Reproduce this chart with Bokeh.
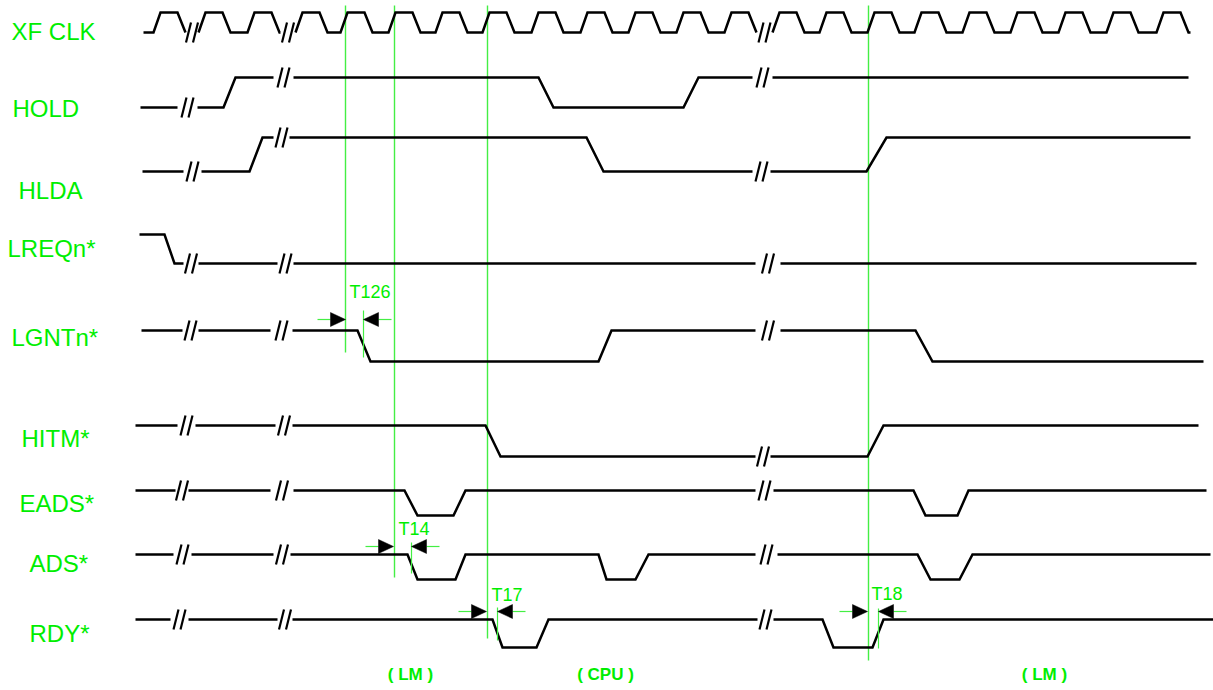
from bokeh.plotting import figure
from bokeh.models import Range1d
from bokeh.core.properties import value
from bokeh.embed import file_html
from bokeh.resources import INLINE

# ---------------- data (time axis in drawing units) ----------------
signal_names = ["XF CLK", "HOLD", "HLDA", "LREQn*", "LGNTn*", "HITM*", "EADS*", "ADS*", "RDY*"]
label_x = [11, 12, 18, 7, 11, 21, 19, 29, 29]
label_y = [31, 108, 190, 248, 337, 438, 503, 563, 633]
level_high = [12, 77, 137, 234, 330, 425, 490, 554, 619]
level_low = [32, 107, 171, 263, 361, 456, 515, 579, 647]

# clock: (segment start, rising edges, segment end)
clk_start = [143, 198, 295, 772]
clk_rises = [[153], [198, 247],
             [295, 340, 388, 435, 482, 531, 580, 628, 676, 724],
             [772, 819, 867, 914, 962, 1010, 1058, 1106, 1156]]
clk_end = [185, 280, 756, 1190]

# other signals: per segment, vertex times and logic states (1 = high, 0 = low)
hold_t = [[140, 177], [197, 223, 235, 273], [293, 538, 553, 683, 698, 752], [772, 1188]]
hold_s = [[0, 0], [0, 0, 1, 1], [1, 1, 0, 0, 1, 1], [1, 1]]
hlda_t = [[142, 183], [201, 249, 262, 273], [289, 586, 603, 752], [770, 866, 886, 1190]]
hlda_s = [[0, 0], [0, 0, 1, 1], [1, 1, 0, 0], [0, 0, 1, 1]]
lreq_t = [[139, 164, 174, 183], [198, 277], [293, 755], [780, 1196]]
lreq_s = [[1, 1, 0, 0], [0, 0], [0, 0], [0, 0]]
lgnt_t = [[141, 182], [198, 270], [292, 357, 370, 598, 611, 755], [780, 915, 932, 1203]]
lgnt_s = [[1, 1], [1, 1], [1, 1, 0, 0, 1, 1], [1, 1, 0, 0]]
hitm_t = [[135, 177], [195, 275], [292, 485, 500, 755], [770, 867, 883, 1198]]
hitm_s = [[1, 1], [1, 1], [1, 1, 0, 0], [0, 0, 1, 1]]
eads_t = [[135, 175], [188, 270], [293, 404, 417, 453, 465, 755], [773, 913, 925, 957, 968, 1206]]
eads_s = [[1, 1], [1, 1], [1, 1, 0, 0, 1, 1], [1, 1, 0, 0, 1, 1]]
ads_t = [[135, 173], [191, 273], [290, 407, 417, 455, 465, 598, 606, 635, 648, 755],
         [777, 917, 930, 959, 972, 1210]]
ads_s = [[1, 1], [1, 1], [1, 1, 0, 0, 1, 1, 0, 0, 1, 1], [1, 1, 0, 0, 1, 1]]
rdy_t = [[135, 170], [188, 277], [292, 492, 502, 536, 548, 757], [773, 822, 833, 872, 883, 1213]]
rdy_s = [[1, 1], [1, 1], [1, 1, 0, 0, 1, 1], [1, 1, 0, 0, 1, 1]]

# reference (marker) lines
marker_x = [345, 394, 487, 868]
marker_bottom = [352, 577, 638, 660]

# timing parameters
timing_names = ["T126", "T14", "T17", "T18"]
timing_from = [345, 393, 486, 867]
timing_to = [363, 411, 497, 878]
timing_y = [319, 546, 611, 611]
timing_tick_top = [310, 542, 607, 608]
timing_tick_bottom = [357, 573, 640, 648]
timing_label_x = [349, 398, 491, 871]
timing_label_y = [291, 528, 594, 593]

# bus-owner phases
phase_names = ["( LM )", "( CPU )", "( LM )"]
phase_x = [410, 605, 1044]
phase_y = 674

# ---------------- styles ----------------
GREEN = "#00ee00"
MARK_GREEN = "#44ee44"
WAVE_W = 2.5
RISE, FALL_START, FALL_END = 7, 24, 32
TRI_LEN, TRI_HALF, TAIL = 15, 7, 13

p = figure(width=1213, height=690, output_backend="svg", toolbar_location=None,
           x_range=Range1d(0, 1213), y_range=Range1d(690, 0),
           x_axis_location=None, y_axis_location=None, min_border=0)
p.grid.visible = False
p.outline_line_color = None
p.background_fill_color = "white"
p.border_fill_color = "white"

wave_xs, wave_ys = [], []
brk_x0, brk_y0, brk_x1, brk_y1 = [], [], [], []


def add_break(xc, y):
    for off in (-6, 1):
        brk_x0.append(xc + off)
        brk_y0.append(y + 10)
        brk_x1.append(xc + off + 5)
        brk_y1.append(y - 10)


# clock
hi, lo = level_high[0], level_low[0]
for i, (s, rises, e) in enumerate(zip(clk_start, clk_rises, clk_end)):
    xs, ys = [s], [lo]
    for r in rises:
        xs += [r, r + RISE, r + FALL_START, r + FALL_END]
        ys += [lo, hi, hi, lo]
    xs.append(e)
    ys.append(lo)
    wave_xs.append(xs)
    wave_ys.append(ys)
    if i + 1 < len(clk_start):
        add_break((e + clk_start[i + 1]) / 2, lo)

signals_t = [hold_t, hlda_t, lreq_t, lgnt_t, hitm_t, eads_t, ads_t, rdy_t]
signals_s = [hold_s, hlda_s, lreq_s, lgnt_s, hitm_s, eads_s, ads_s, rdy_s]
for k, (segs_t, segs_s) in enumerate(zip(signals_t, signals_s)):
    hi, lo = level_high[k + 1], level_low[k + 1]
    for i, (ts, ss) in enumerate(zip(segs_t, segs_s)):
        wave_xs.append(ts)
        wave_ys.append([hi if v else lo for v in ss])
        if i + 1 < len(segs_t):
            add_break((ts[-1] + segs_t[i + 1][0]) / 2, hi if ss[-1] else lo)

# marker lines (behind waveforms)
p.segment(x0=marker_x, y0=[5] * len(marker_x), x1=marker_x, y1=marker_bottom,
          line_color=MARK_GREEN, line_width=1.4)

p.multi_line(xs=wave_xs, ys=wave_ys, line_color="black", line_width=WAVE_W, line_join="miter")
p.segment(x0=brk_x0, y0=brk_y0, x1=brk_x1, y1=brk_y1, line_color="black", line_width=2.2)

# timing annotations
tri_xs, tri_ys = [], []
tail_x0, tail_x1, tail_y = [], [], []
for a, b, y in zip(timing_from, timing_to, timing_y):
    tri_xs.append([a, a - TRI_LEN, a - TRI_LEN])
    tri_ys.append([y, y - TRI_HALF, y + TRI_HALF])
    tri_xs.append([b, b + TRI_LEN, b + TRI_LEN])
    tri_ys.append([y, y - TRI_HALF, y + TRI_HALF])
    tail_x0 += [a - TRI_LEN - TAIL, b + TRI_LEN]
    tail_x1 += [a - TRI_LEN, b + TRI_LEN + TAIL]
    tail_y += [y, y]
p.segment(x0=tail_x0, y0=tail_y, x1=tail_x1, y1=tail_y, line_color=MARK_GREEN, line_width=1.2)
p.segment(x0=timing_to, y0=timing_tick_top, x1=timing_to, y1=timing_tick_bottom,
          line_color=MARK_GREEN, line_width=1.2)
p.patches(xs=tri_xs, ys=tri_ys, fill_color="black", line_color="black", line_width=0.5)
p.text(x=timing_label_x, y=timing_label_y, text=timing_names, text_color=GREEN,
       text_font=value("Liberation Sans"), text_font_size="18px",
       text_baseline="middle", text_align="left")

# signal labels
p.text(x=label_x, y=label_y, text=signal_names, text_color=GREEN,
       text_font=value("Liberation Sans"), text_font_size="24px",
       text_baseline="middle", text_align="left")

# phase labels
p.text(x=phase_x, y=[phase_y] * len(phase_x), text=phase_names, text_color=GREEN,
       text_font=value("Liberation Sans"), text_font_style="bold",
       text_font_size="17px", text_baseline="middle", text_align="center")

open("out.html", "w").write(file_html(p, INLINE))
